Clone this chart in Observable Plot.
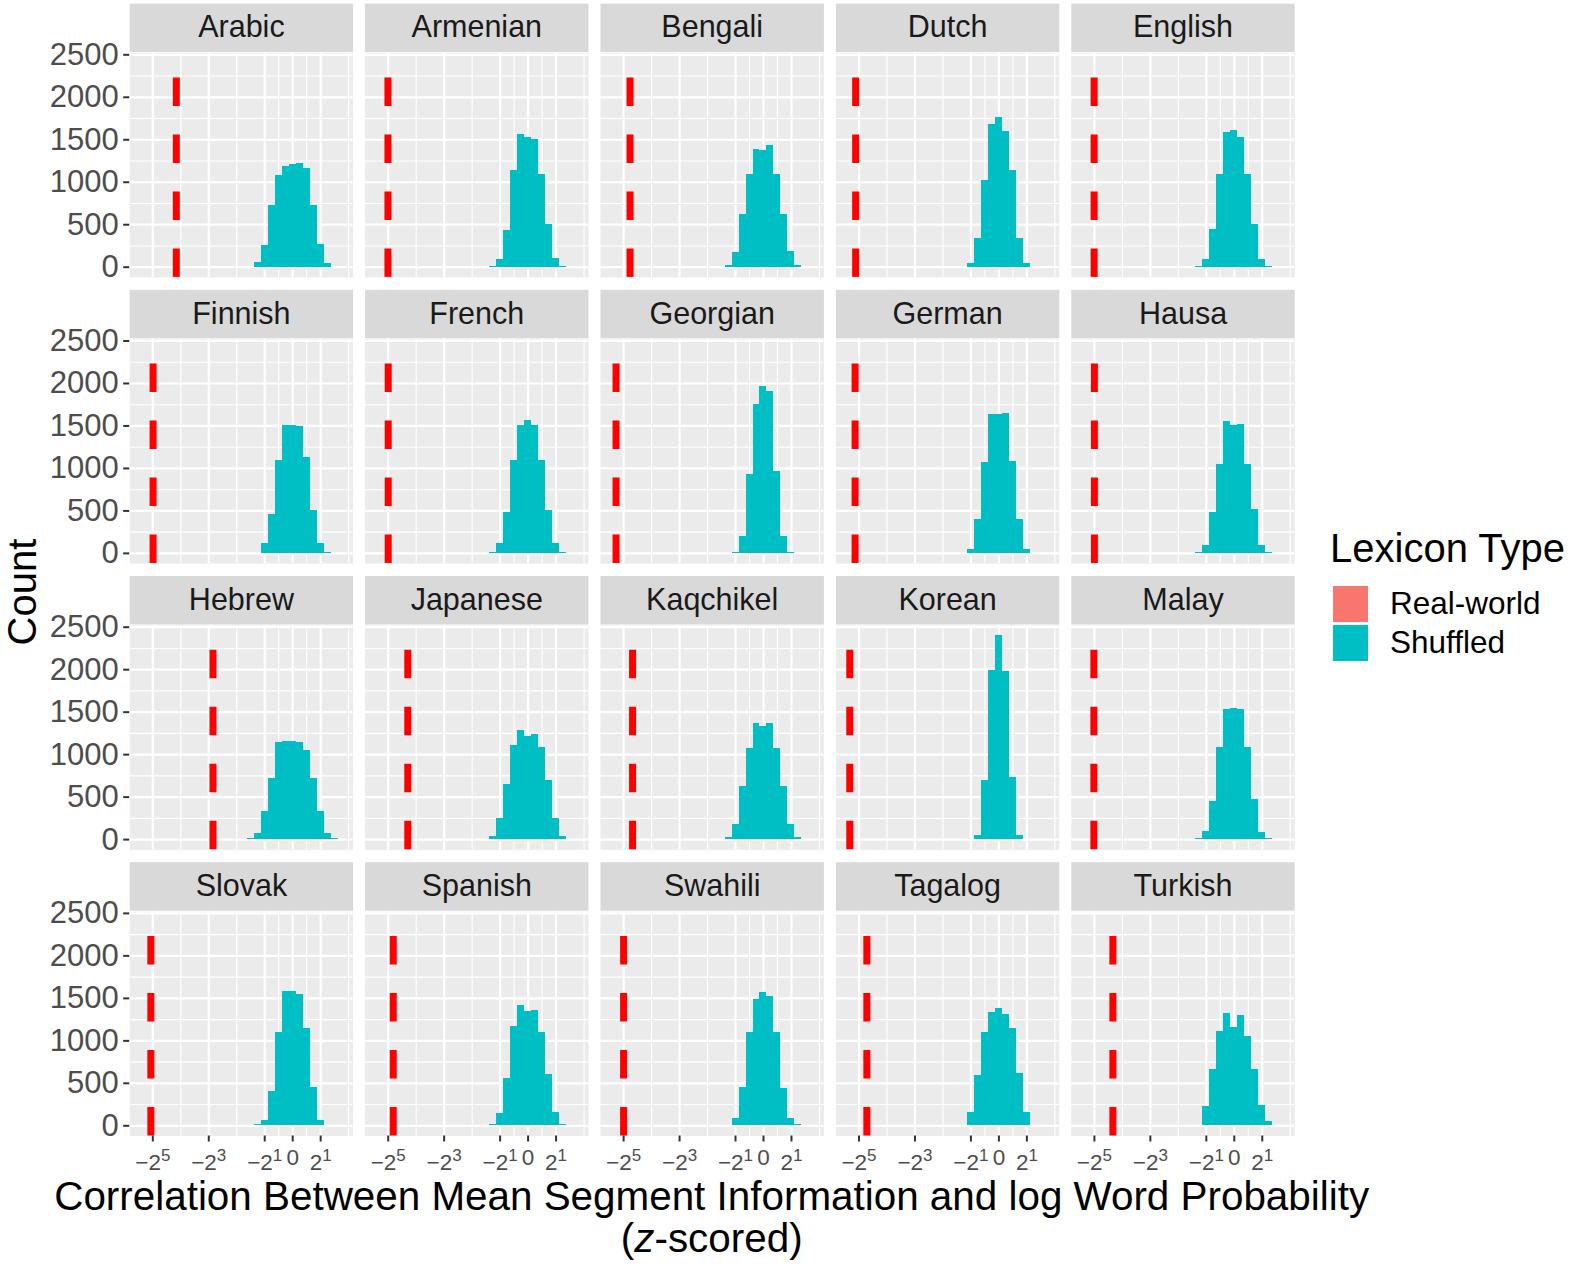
<!DOCTYPE html>
<html>
<head>
<meta charset="utf-8">
<script src="https://cdn.jsdelivr.net/npm/d3@7"></script>
<script src="https://cdn.jsdelivr.net/npm/@observablehq/plot@0.6"></script>
<style>
  body { margin: 0; background: #fff; font-family: "Liberation Sans", Arial, Helvetica, sans-serif; }
  #wrap { position: relative; width: 1574px; height: 1266px; overflow: hidden; background: #fff; }
  #chart { position: absolute; left: 0; top: 0; }
  .t { position: absolute; white-space: nowrap; color: #000; line-height: 1; }
  .key { position: absolute; }
</style>
</head>
<body>
<div id="wrap">
  <div id="chart"></div>
  <div class="t" id="xtitle1" style="left:0;width:1423.4px;text-align:center;top:1176px;font-size:40.4px;">Correlation Between Mean Segment Information and log Word Probability</div>
  <div class="t" id="xtitle2" style="left:0;width:1423.4px;text-align:center;top:1217.7px;font-size:40.4px;">(<i>z</i>-scored)</div>
  <div class="t" id="ytitle" style="left:-78.4px;top:572.3px;width:200px;height:40px;text-align:center;font-size:40px;transform:rotate(-90deg);">Count</div>
  <div id="legend"></div>
</div>
<script>
// ---- data (x values are on the signed-log2 axis: -2^5 -> -5, -2^3 -> -3, -2^1 -> -1, 0 -> 0, 2^1 -> 1) ----
const languages = ["Arabic", "Armenian", "Bengali", "Dutch", "English",
                   "Finnish", "French", "Georgian", "German", "Hausa",
                   "Hebrew", "Japanese", "Kaqchikel", "Korean", "Malay",
                   "Slovak", "Spanish", "Swahili", "Tagalog", "Turkish"];
const gridCols = 5;
// real-world lexicon correlation (position of the dashed red line)
const realWorld = [-4.16, -5.01, -4.77, -5.12, -5.01,
                   -4.99, -5.00, -5.27, -5.14, -5.00,
                   -2.85, -4.30, -4.68, -5.33, -5.02,
                   -5.07, -4.82, -5.00, -4.72, -4.34];
// centre of the first histogram bin of the shuffled lexicons
const binCenterStart = [-1.25, -1.25, -1.25, -1.0, -1.25,
                        -1.0, -1.25, -1.0, -1.0, -1.25,
                        -1.5, -1.25, -1.25, -0.75, -1.25,
                        -1.25, -1.25, -1.0, -1.25, -1.25];
const binWidth = 0.25;
// counts of shuffled lexicons per bin
const shuffledCounts = [
  [60, 260, 730, 1080, 1190, 1205, 1215, 1160, 730, 265, 40],          // Arabic
  [10, 90, 435, 1134, 1566, 1527, 1503, 1095, 506, 98, 12],            // Armenian
  [20, 173, 620, 1091, 1385, 1378, 1432, 1095, 620, 180, 16],          // Bengali
  [43, 334, 1024, 1684, 1762, 1593, 1134, 338, 43],                    // Dutch
  [8, 90, 443, 1095, 1582, 1605, 1527, 1095, 502, 90, 10],             // English
  [114, 463, 1095, 1503, 1503, 1495, 1134, 506, 114, 12],              // Finnish
  [12, 114, 483, 1095, 1503, 1566, 1503, 1095, 506, 114, 12],          // French
  [12, 200, 934, 1758, 1966, 1907, 965, 200, 12],                      // Georgian
  [43, 404, 1075, 1640, 1633, 1645, 1079, 404, 43],                    // German
  [8, 90, 483, 1052, 1554, 1511, 1515, 1052, 514, 90, 12],             // Hausa
  [12, 71, 326, 718, 1142, 1150, 1153, 1142, 1044, 722, 326, 75, 12],  // Hebrew
  [35, 247, 643, 1110, 1287, 1208, 1240, 1083, 690, 247, 35],          // Japanese
  [24, 180, 624, 1071, 1370, 1330, 1370, 1071, 620, 180, 24],          // Kaqchikel
  [44, 690, 1993, 2400, 1976, 730, 44],                                // Korean
  [10, 90, 447, 1083, 1527, 1542, 1527, 1083, 475, 82, 10],            // Malay
  [10, 63, 404, 1095, 1575, 1575, 1545, 1142, 447, 63],                // Slovak
  [12, 149, 553, 1169, 1417, 1346, 1358, 1095, 600, 153, 12],          // Spanish
  [90, 447, 1095, 1483, 1566, 1527, 1095, 436, 90, 12],                // Swahili
  [8, 153, 593, 1096, 1330, 1380, 1313, 1148, 617, 153, 8],            // Tagalog
  [8, 232, 663, 1108, 1320, 1160, 1300, 1057, 663, 243, 55]            // Turkish
];
const xDomain = [-5.826, 2.159];
const yDomain = [-120, 2520];
const xTicks = [-5, -3, -1, 0, 1];
const xTickBase = ["\u22122", "\u22122", "\u22122", "0", "2"];
const xTickExp = ["5", "3", "1", "", "1"];
const xMinor = [-4, -2, -0.5, 0.5, 2];
const yTicks = [0, 500, 1000, 1500, 2000, 2500];
const yMinor = [250, 750, 1250, 1750, 2250];
const lexiconTypes = ["Real-world", "Shuffled"];
const lexiconColors = ["#F8766D", "#00BFC4"];
const vlineColor = "#FF0000";

// ---- tables for Plot ----
const panels = languages.map((name, i) => ({
  name, col: i % gridCols, row: Math.floor(i / gridCols), real: realWorld[i]
}));
const bins = panels.flatMap((p, i) => shuffledCounts[i].map((count, j) => ({
  col: p.col, row: p.row,
  x1: binCenterStart[i] + (j - 0.5) * binWidth,
  x2: binCenterStart[i] + (j + 0.5) * binWidth,
  count
})));

const panelH = 224.3;
const font = '"Liberation Sans", Arial, Helvetica, sans-serif';

const chart = Plot.plot({
  width: 1574,
  height: 1266,
  marginLeft: 129.2,
  marginRight: 279.8,
  marginTop: 52.6,
  marginBottom: 130.5,
  style: { fontFamily: font, background: "transparent", overflow: "visible" },
  x: { domain: xDomain },
  y: { domain: yDomain },
  fx: { domain: [0, 1, 2, 3, 4], paddingInner: 0.051, paddingOuter: 0, round: false, axis: null },
  fy: { domain: [0, 1, 2, 3], paddingInner: 0.2163, paddingOuter: 0, round: false, axis: null },
  marks: [
    Plot.frame({ fill: "#EBEBEB" }),
    Plot.frame({ fill: "#D9D9D9", insetTop: -49.5, insetBottom: panelH + 1 }),
    Plot.ruleY(yMinor, { stroke: "white", strokeWidth: 1.1 }),
    Plot.ruleX(xMinor, { stroke: "white", strokeWidth: 1.1 }),
    Plot.ruleY(yTicks, { stroke: "white", strokeWidth: 2.2 }),
    Plot.ruleX(xTicks, { stroke: "white", strokeWidth: 2.2 }),
    Plot.rectY(bins, { x1: "x1", x2: "x2", y: "count", fx: "col", fy: "row",
                       fill: lexiconColors[1], inset: 0, shapeRendering: "crispEdges" }),
    Plot.ruleX(panels, { x: "real", y1: () => yDomain[0], y2: () => yDomain[1],
                         fx: "col", fy: "row", stroke: vlineColor, strokeWidth: 7,
                         strokeDasharray: "28.5,28.5" }),
    Plot.text(panels, { text: "name", fx: "col", fy: "row", frameAnchor: "top",
                        lineAnchor: "middle", dy: -25.5,
                        fontSize: 30.5, fill: "#1A1A1A" }),
    Plot.axisX({ ticks: xTicks, tickSize: 6, tickPadding: 12, fontSize: 22.5,
                 color: "#4D4D4D", stroke: "#333333", strokeWidth: 2, label: null,
                 tickFormat: d => { const i = xTicks.indexOf(d); return xTickBase[i] + (xTickExp[i] ? "^" + xTickExp[i] : ""); } }),
    Plot.axisY({ ticks: yTicks, tickSize: 6, tickPadding: 5, fontSize: 31,
                 color: "#4D4D4D", stroke: "#333333", strokeWidth: 2, label: null,
                 tickFormat: d => String(d) })
  ]
});

// superscripts on the x tick labels
chart.querySelectorAll('[aria-label="x-axis tick label"] text').forEach(t => {
  const s = t.textContent;
  t.textContent = "";
  const ns = "http://www.w3.org/2000/svg";
  if (s.includes("^")) {
    const [base, exp] = s.split("^");
    t.appendChild(document.createTextNode(base));
    const sup = document.createElementNS(ns, "tspan");
    sup.setAttribute("dy", "-8.5");
    sup.setAttribute("font-size", "17");
    sup.textContent = exp;
    t.appendChild(sup);
  } else {
    const sp = document.createElementNS(ns, "tspan");
    sp.setAttribute("dy", "-5");
    sp.textContent = s;
    t.appendChild(sp);
  }
});

document.getElementById("chart").appendChild(chart);

// legend
const legend = document.getElementById("legend");
const title = document.createElement("div");
title.className = "t";
title.style.cssText = "left:1330px;top:528.1px;font-size:40px;";
title.textContent = "Lexicon Type";
legend.appendChild(title);
lexiconTypes.forEach((name, i) => {
  const key = document.createElement("div");
  key.className = "key";
  key.style.cssText = `left:1333.3px;top:${586 + i * 39}px;width:35px;height:35.7px;background:${lexiconColors[i]};`;
  legend.appendChild(key);
  const lab = document.createElement("div");
  lab.className = "t";
  lab.style.cssText = `left:1390px;top:${615 + i * 39 - 0.8465 * 31.5}px;font-size:31.5px;`;
  lab.textContent = name;
  legend.appendChild(lab);
});
</script>
</body>
</html>
